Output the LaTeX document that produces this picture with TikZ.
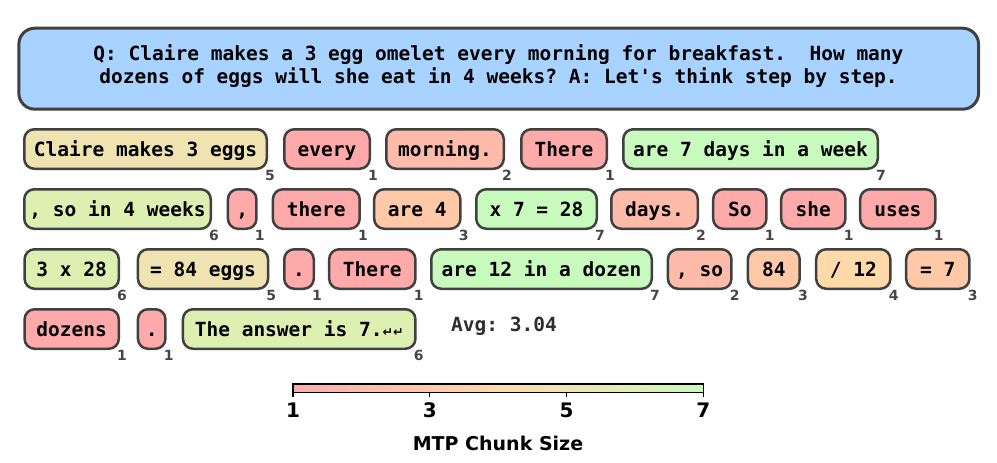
\documentclass[tikz,border=0pt]{standalone}
\usepackage{fontspec}
\usepackage{xcolor}
\usepackage{tikz}
\newfontfamily\codefont{DejaVu Sans Mono}
\newfontfamily\labelfont{DejaVu Sans}
\frenchspacing
\definecolor{qblue}{RGB}{168,210,255}
\definecolor{edgegray}{RGB}{64,64,64}
\definecolor{subgray}{RGB}{70,70,70}
\definecolor{avggray}{RGB}{45,45,45}
\definecolor{mtp1}{RGB}{255,170,170}
\definecolor{mtp2}{RGB}{255,187,170}
\definecolor{mtp3}{RGB}{255,201,168}
\definecolor{mtp4}{RGB}{255,217,170}
\definecolor{mtp5}{RGB}{239,228,177}
\definecolor{mtp6}{RGB}{221,240,178}
\definecolor{mtp7}{RGB}{200,250,190}

\begin{document}
\begin{tikzpicture}[x=1pt,y=-1pt]
\tikzstyle{every node}+=[inner sep=0pt]
\tikzstyle{chunk}=[draw=edgegray,line width=2.5pt,rounded corners=10pt,minimum height=39.5pt,inner xsep=2pt,text height=14.6pt,text depth=0pt,font=\codefont\bfseries\fontsize{19.5}{22}\selectfont]
\tikzstyle{chunksize}=[anchor=north,text=subgray,font=\labelfont\bfseries\fontsize{14}{14}\selectfont]
\tikzstyle{barlabel}=[anchor=base,font=\labelfont\bfseries\fontsize{20}{20}\selectfont]
\useasboundingbox (0,0) rectangle (997,463);
% question
\node[draw=edgegray,line width=3pt,fill=qblue,rounded corners=16pt,minimum width=959.7pt,minimum height=81pt] (qbox) at (498.7,68.7) {};
\node[align=center,font=\codefont\bfseries\fontsize{19.5}{22.4}\selectfont] (qtext) at (498.5,66)
  {Q: Claire makes a 3 egg omelet every morning for breakfast.\ \ How many\\dozens of eggs will she eat in 4 weeks? A: Let's think step by step.};
% row 1
\node[chunk,fill=mtp5,minimum width=242.5pt] (t1) at (145.5,149) {Claire makes 3 eggs};
\node[chunksize] (s1) at ([xshift=2pt]t1.south east) {5};
\node[chunk,fill=mtp1,minimum width=85.5pt] (t2) at (327,149) {every};
\node[chunksize] (s2) at ([xshift=2pt]t2.south east) {1};
\node[chunk,fill=mtp2,minimum width=117.5pt] (t3) at (445,149) {morning.};
\node[chunksize] (s3) at ([xshift=2pt]t3.south east) {2};
\node[chunk,fill=mtp1,minimum width=85.5pt] (t4) at (564,149) {There};
\node[chunksize] (s4) at ([xshift=2pt]t4.south east) {1};
\node[chunk,fill=mtp7,minimum width=254.5pt] (t5) at (750.5,149) {are 7 days in a week};
\node[chunksize] (s5) at ([xshift=2pt]t5.south east) {7};
% row 2
\node[chunk,fill=mtp6,minimum width=186.5pt] (t6) at (117.5,209) {, so in 4 weeks};
\node[chunksize] (s6) at ([xshift=2pt]t6.south east) {6};
\node[chunk,fill=mtp1,minimum width=28.5pt] (t7) at (242.2,209) {,};
\node[chunksize] (s7) at ([xshift=2pt]t7.south east) {1};
\node[chunk,fill=mtp1,minimum width=86.8pt] (t8) at (316.3,209) {there};
\node[chunksize] (s8) at ([xshift=2pt]t8.south east) {1};
\node[chunk,fill=mtp3,minimum width=86.2pt] (t9) at (417.3,209) {are 4};
\node[chunksize] (s9) at ([xshift=2pt]t9.south east) {3};
\node[chunk,fill=mtp7,minimum width=120.5pt] (t10) at (536.5,209) {x 7 = 28};
\node[chunksize] (s10) at ([xshift=2pt]t10.south east) {7};
\node[chunk,fill=mtp2,minimum width=86.5pt] (t11) at (654.5,209) {days.};
\node[chunksize] (s11) at ([xshift=2pt]t11.south east) {2};
\node[chunk,fill=mtp1,minimum width=53.2pt] (t12) at (739.8,209) {So};
\node[chunksize] (s12) at ([xshift=2pt]t12.south east) {1};
\node[chunk,fill=mtp1,minimum width=64.2pt] (t13) at (813.3,209) {she};
\node[chunksize] (s13) at ([xshift=2pt]t13.south east) {1};
\node[chunk,fill=mtp1,minimum width=75.2pt] (t14) at (897.8,209) {uses};
\node[chunksize] (s14) at ([xshift=2pt]t14.south east) {1};
% row 3
\node[chunk,fill=mtp6,minimum width=94.2pt] (t15) at (71.7,269) {3 x 28};
\node[chunksize] (s15) at ([xshift=2pt]t15.south east) {6};
\node[chunk,fill=mtp5,minimum width=130.1pt] (t16) at (203,269) {= 84 eggs};
\node[chunksize] (s16) at ([xshift=2pt]t16.south east) {5};
\node[chunk,fill=mtp1,minimum width=29.5pt] (t17) at (299,269) {.};
\node[chunksize] (s17) at ([xshift=2pt]t17.south east) {1};
\node[chunk,fill=mtp1,minimum width=86.2pt] (t18) at (372.3,269) {There};
\node[chunksize] (s18) at ([xshift=2pt]t18.south east) {1};
\node[chunk,fill=mtp7,minimum width=220.5pt] (t19) at (541.5,269) {are 12 in a dozen};
\node[chunksize] (s19) at ([xshift=2pt]t19.south east) {7};
\node[chunk,fill=mtp2,minimum width=63.5pt] (t20) at (699.7,269) {, so};
\node[chunksize] (s20) at ([xshift=2pt]t20.south east) {2};
\node[chunk,fill=mtp3,minimum width=51.8pt] (t21) at (773.8,269) {84};
\node[chunksize] (s21) at ([xshift=2pt]t21.south east) {3};
\node[chunk,fill=mtp4,minimum width=74.2pt] (t22) at (853.3,269) {/ 12};
\node[chunksize] (s22) at ([xshift=2pt]t22.south east) {4};
\node[chunk,fill=mtp3,minimum width=63.2pt] (t23) at (937.8,269) {= 7};
\node[chunksize] (s23) at ([xshift=2pt]t23.south east) {3};
% row 4
\node[chunk,fill=mtp1,minimum width=94.2pt] (t24) at (71.7,329) {dozens};
\node[chunksize] (s24) at ([xshift=2pt]t24.south east) {1};
\node[chunk,fill=mtp1,minimum width=27.5pt] (t25) at (151.7,329) {.};
\node[chunksize] (s25) at ([xshift=2pt]t25.south east) {1};
\node[chunk,fill=mtp6,minimum width=232.5pt] (t26) at (299.2,329) {The answer is 7.{\labelfont\fontsize{12.5}{12}\selectfont ↵↵}};
\node[chunksize] (s26) at ([xshift=2pt]t26.south east) {6};
\node[anchor=base west,text=avggray,font=\codefont\bfseries\fontsize{19.5}{22}\selectfont] (avg) at (451,331.7) {Avg: 3.04};
% colour bar
\coordinate (cb1) at (293,384);
\coordinate (cb2) at (703.3,392.7);
\foreach \i [evaluate=\i as \j using int(\i+1)] in {1,...,6}
  \shade[left color=mtp\i,right color=mtp\j] ({293+68.38*(\i-1)},384) rectangle ({293+68.38*\i},392.7);
\draw[line width=1.3pt] (cb1) rectangle (cb2);
\foreach \v in {1,3,5,7} {
  \draw[line width=1.3pt] ({293+68.38*(\v-1)},392.7) -- ++(0,4.5);
  \node[barlabel] (tick\v) at ({293+68.38*(\v-1)},417.7) {\v};
}
\node[barlabel,font=\labelfont\bfseries\fontsize{19}{19}\selectfont] (cbtitle) at (498,450) {MTP Chunk Size};
\end{tikzpicture}
\end{document}
